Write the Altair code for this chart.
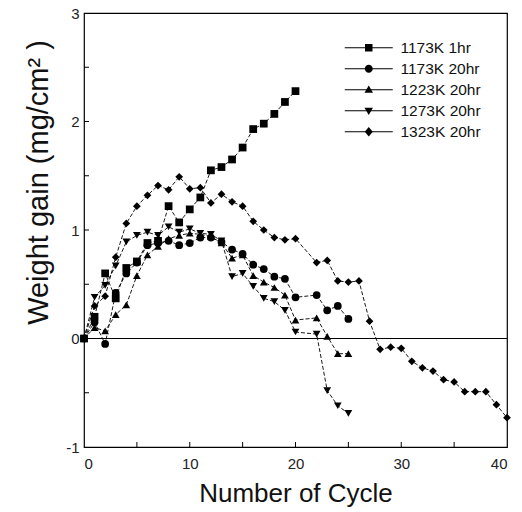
import altair as alt
import pandas as pd

# ---- data ----
series_names = ["1173K 1hr", "1173K 20hr", "1223K 20hr", "1273K 20hr", "1323K 20hr"]

cyc_1173_1 = list(range(0, 21))
val_1173_1 = [0, 0.20, 0.60, 0.37, 0.65, 0.71, 0.88, 0.90, 1.22, 1.07, 1.19,
              1.30, 1.55, 1.58, 1.65, 1.76, 1.93, 1.98, 2.07, 2.18, 2.28]

cyc_1173_20 = list(range(0, 21)) + [22, 23, 24, 25]
val_1173_20 = [0, 0.15, -0.05, 0.42, 0.60, 0.70, 0.86, 0.88, 0.90, 0.86, 0.88,
               0.93, 0.93, 0.89, 0.82, 0.78, 0.68, 0.64, 0.57, 0.55, 0.38,
               0.40, 0.26, 0.30, 0.18]

cyc_1223_20 = list(range(0, 21)) + [22, 23, 24, 25]
val_1223_20 = [0, 0.10, 0.07, 0.22, 0.31, 0.58, 0.77, 0.85, 0.92, 0.95, 0.97,
               0.96, 0.94, 0.88, 0.74, 0.77, 0.58, 0.52, 0.47, 0.40, 0.17,
               0.19, 0.02, -0.14, -0.14]

cyc_1273_20 = list(range(0, 21)) + [22, 23, 24, 25]
val_1273_20 = [0, 0.38, 0.49, 0.67, 0.89, 0.95, 0.98, 0.95, 1.03, 0.98, 1.01,
               0.97, 0.96, 0.90, 0.57, 0.60, 0.48, 0.37, 0.34, 0.26, 0.06,
               0.04, -0.48, -0.62, -0.69]

cyc_1323_20 = list(range(0, 21)) + list(range(22, 41))
val_1323_20 = [0, 0.30, 0.39, 0.75, 1.06, 1.22, 1.32, 1.41, 1.37, 1.49, 1.38,
               1.39, 1.25, 1.33, 1.26, 1.22, 1.08, 1.00, 0.93, 0.91, 0.92,
               0.70, 0.72, 0.53, 0.52, 0.53, 0.16, -0.10, -0.08, -0.09, -0.21,
               -0.27, -0.30, -0.38, -0.40, -0.49, -0.49, -0.49, -0.61, -0.73]

x_tick_labels = [0, 10, 20, 30, 40]
y_tick_labels = [-1, 0, 1, 2, 3]
x_minor_ticks = [5, 10, 15, 20, 25, 30, 35]
y_minor_ticks = [-0.5, 0, 0.5, 1, 1.5, 2, 2.5]

# ---- build table ----
rows = []
for name, cyc, val in zip(series_names,
                          [cyc_1173_1, cyc_1173_20, cyc_1223_20, cyc_1273_20, cyc_1323_20],
                          [val_1173_1, val_1173_20, val_1223_20, val_1273_20, val_1323_20]):
    for c, v in zip(cyc, val):
        rows.append({"series": name, "cycle": c, "gain": v})
df = pd.DataFrame(rows)

FONT = "Liberation Sans"
W, H = 423, 434

xscale = alt.Scale(domain=[0, 40], nice=False)
yscale = alt.Scale(domain=[-1, 3], nice=False)

x_enc = alt.X("cycle:Q", scale=xscale,
              axis=alt.Axis(values=x_tick_labels, labelExpr="datum.value + ''",
                            title="Number of Cycle",
                            ticks=False, tickSize=0, grid=False, domain=False, labelPadding=9,
                            labelFontSize=15, labelColor="#222", labelFont=FONT,
                            titleFont=FONT, titleFontSize=26, titleFontWeight="normal",
                            titleColor="#111", titleX=W / 2, titleY=46,
                            titleBaseline="middle"))
y_enc = alt.Y("gain:Q", scale=yscale,
              axis=alt.Axis(values=y_tick_labels, labelExpr="datum.value + ''",
                            title="Weight gain (mg/cm² )",
                            ticks=False, tickSize=0, grid=False, domain=False, labelPadding=5,
                            labelFontSize=15, labelColor="#222", labelFont=FONT,
                            titleFont=FONT, titleFontSize=29, titleFontWeight="normal",
                            titleColor="#111", titleX=-46, titleY=169,
                            titleBaseline="middle", titleAngle=-90))

shape_std = ["square", "circle", "triangle-up", "triangle-down", "diamond"]

lines = alt.Chart(df).mark_line(color="black", strokeWidth=0.9, strokeDash=[4, 2]).encode(
    x=x_enc, y=y_enc, detail="series:N", order="cycle:Q")

points = alt.Chart(df).mark_point(filled=True, opacity=1, color="black", size=60).encode(
    x=alt.X("cycle:Q", scale=xscale),
    y=alt.Y("gain:Q", scale=yscale),
    shape=alt.Shape("series:N", scale=alt.Scale(domain=series_names, range=shape_std),
                    legend=None))

zero = alt.Chart(df).mark_rule(color="black", strokeWidth=1).encode(y=alt.datum(0))

yt = pd.DataFrame({"v": y_minor_ticks})
xt = pd.DataFrame({"v": x_minor_ticks})
ytick = alt.Chart(yt).mark_rule(color="black", strokeWidth=1).encode(
    y=alt.Y("v:Q", scale=yscale), x=alt.value(0), x2=alt.value(5))
xtick = alt.Chart(xt).mark_rule(color="black", strokeWidth=1).encode(
    x=alt.X("v:Q", scale=xscale), y=alt.value(H), y2=alt.value(H - 5))

# legend: a stroked line layer and a filled marker layer, overlaid
line_path = "M-4.8,0H4.8"
marker_paths = [
    "M-0.75,-0.75H0.75V0.75H-0.75Z",
    "M0.8,0A0.8,0.8,0,1,1,-0.8,0A0.8,0.8,0,1,1,0.8,0Z",
    "M0,-0.85L0.85,0.6L-0.85,0.6Z",
    "M0,0.85L0.85,-0.6L-0.85,-0.6Z",
    "M0,-0.95L0.8,0L0,0.95L-0.8,0Z",
]
leg_common = dict(title=None, orient="none", legendX=277, legendY=27, padding=0,
                  labelFont=FONT, labelFontSize=15.5, labelColor="#111",
                  symbolSize=100, labelOffset=24, rowPadding=4, symbolOpacity=1)

legend_lines = alt.Chart(df).mark_point(
    filled=False, opacity=1, color="black", strokeWidth=1
).encode(
    shape=alt.Shape("series:N",
                    scale=alt.Scale(domain=series_names, range=[line_path] * 5),
                    legend=alt.Legend(symbolStrokeWidth=1, symbolStrokeColor="black",
                                      **leg_common))
).transform_filter("false")

legend_marks = alt.Chart(df).mark_point(
    filled=True, opacity=1, color="black"
).encode(
    shape=alt.Shape("series:N",
                    scale=alt.Scale(domain=series_names, range=marker_paths),
                    legend=alt.Legend(labelOpacity=0, symbolFillColor="black",
                                      **leg_common))
).transform_filter("false")

chart = alt.layer(zero, lines, points, ytick, xtick, legend_lines, legend_marks).resolve_scale(
    shape="independent"
).properties(
    width=W, height=H,
    padding={"left": 84, "top": 13, "right": 15, "bottom": 65},
    autosize=alt.AutoSizeParams(type="none"),
    background="white",
).configure_view(stroke="black", strokeWidth=1.2)

chart.save("out.html", embed_options={"renderer": "svg", "actions": False})
